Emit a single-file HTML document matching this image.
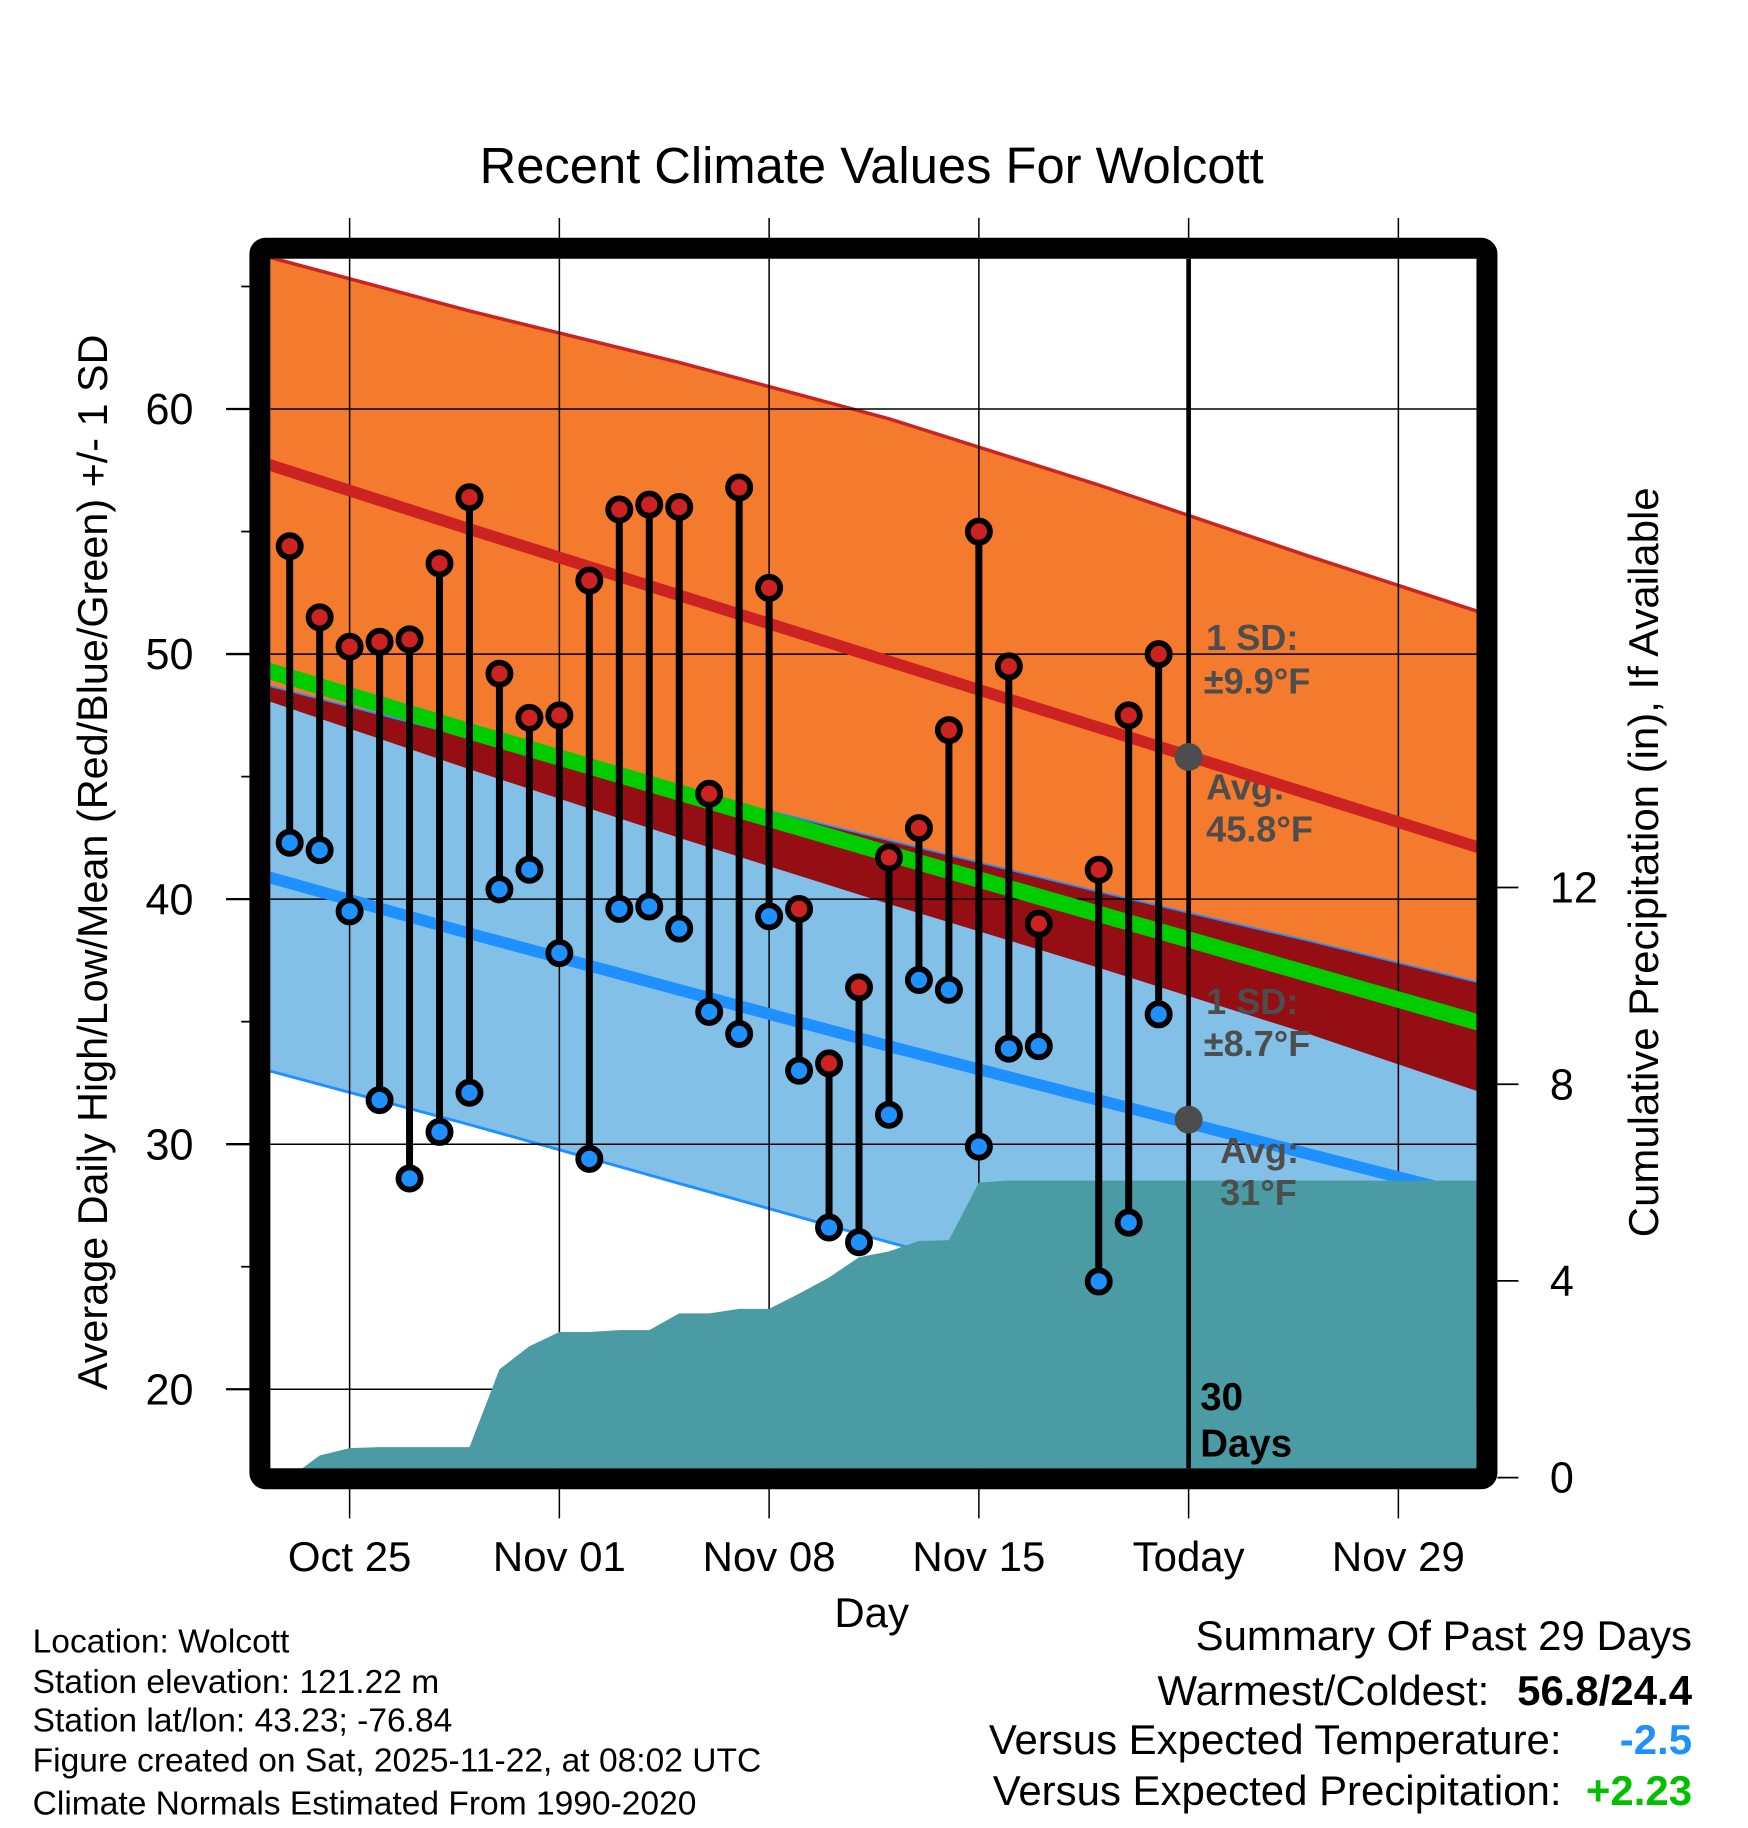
<!DOCTYPE html>
<html><head><meta charset="utf-8"><style>
html,body{margin:0;padding:0;background:#fff}
svg{display:block;font-family:"Liberation Sans",Arial,sans-serif}
</style></head><body>
<svg id="chart" width="1748" height="1828" viewBox="0 0 1500 1568.7" xmlns="http://www.w3.org/2000/svg">
<defs>
<clipPath id="plotClip"><rect x="232" y="222" width="1035" height="1038"/></clipPath>
<clipPath id="hiBandClip"><polygon id="hiBandClipPoly" points=""/></clipPath>
</defs>
<text x="748" y="157" text-anchor="middle" font-size="43.5">Recent Climate Values For Wolcott</text>
<g id="plot" clip-path="url(#plotClip)"></g>
<g id="axes"></g>
<text transform="translate(92,740) rotate(-90)" text-anchor="middle" font-size="35.5">Average Daily High/Low/Mean (Red/Blue/Green) +/- 1 SD</text>
<text transform="translate(1423,740) rotate(-90)" text-anchor="middle" font-size="36">Cumulative Precipitation (in), If Available</text>
<text x="748" y="1396" text-anchor="middle" font-size="36">Day</text>
<g font-size="28.8">
<text x="28" y="1418">Location: Wolcott</text>
<text x="28" y="1453">Station elevation: 121.22 m</text>
<text x="28" y="1486">Station lat/lon: 43.23; -76.84</text>
<text x="28" y="1520">Figure created on Sat, 2025-11-22, at 08:02 UTC</text>
<text x="28" y="1557">Climate Normals Estimated From 1990-2020</text>
</g>
<g font-size="36">
<text x="1452" y="1416" text-anchor="end">Summary Of Past 29 Days</text>
<text x="1278" y="1463" text-anchor="end">Warmest/Coldest:</text>
<text x="1452" y="1463" text-anchor="end" font-weight="bold">56.8/24.4</text>
<text x="1340" y="1505" text-anchor="end">Versus Expected Temperature:</text>
<text x="1452" y="1505" text-anchor="end" font-weight="bold" fill="#1e90ff">-2.5</text>
<text x="1340" y="1549" text-anchor="end">Versus Expected Precipitation:</text>
<text x="1452" y="1549" text-anchor="end" font-weight="bold" fill="#00c000">+2.23</text>
</g>
</svg>
<script>
// Observed daily data (day index: 0 = Oct 25)
const obsDays = [-2,-1,0,1,2,3,4,5,6,7,8,9,10,11,12,13,14,15,16,17,18,19,20,21,22,23,25,26,27];
const highs = [54.4,51.5,50.3,50.5,50.6,53.7,56.4,49.2,47.4,47.5,53.0,55.9,56.1,56.0,44.3,56.8,52.7,39.6,33.3,36.4,41.7,42.9,46.9,55.0,49.5,39.0,41.2,47.5,50.0];
const lows = [42.3,42.0,39.5,31.8,28.6,30.5,32.1,40.4,41.2,37.8,29.4,39.6,39.7,38.8,35.4,34.5,39.3,33.0,26.6,26.0,31.2,36.7,36.3,29.9,33.9,34.0,24.4,26.8,35.3];
const precipDays = [-2,-1,0,1,2,3,4,5,6,7,8,9,10,11,12,13,14,15,16,17,18,19,20,21,22,23,24,25,26,27];
const precip = [0,0.45,0.6,0.62,0.62,0.62,0.62,2.2,2.67,2.96,2.96,3.0,3.0,3.34,3.34,3.43,3.43,3.74,4.07,4.48,4.6,4.81,4.83,6.0,6.04,6.04,6.04,6.04,6.04,6.04];
// Normals at weekly dates
const normDays = [-3,4,11,18,25,32,39];
const hiUpper = [66.3,64.0,61.9,59.6,56.9,54.0,51.2];
const hiMean = [57.85,55.1,52.4,49.7,47.0,44.3,41.6];
const hiLower = [48.2,45.3,42.5,39.8,37.2,34.5,31.6];
const loUpper = [48.8,46.6,44.5,42.4,40.3,38.3,36.2];
const loMean = [41.0,38.6,36.3,34.0,31.8,29.6,27.4];
const loLower = [33.1,30.8,28.4,26.0,23.7,21.3,19.0];
const xTickDays = [0,7,14,21,28,35];
const xTickLabels = ["Oct 25","Nov 01","Nov 08","Nov 15","Today","Nov 29"];
const yTicks = [20,30,40,50,60];
const yMinor = [25,35,45,55,65];
const pTicks = [0,4,8,12];
const todayDay = 28;

const NS="http://www.w3.org/2000/svg";
const X=d=>300+d*25.714;
const Y=v=>351+(60-v)*21.03;
const YP=p=>1268-p*42.2;
const plot=document.getElementById('plot'), axes=document.getElementById('axes');
function mk(tag,attrs,parent){const e=document.createElementNS(NS,tag);for(const k in attrs)e.setAttribute(k,attrs[k]);parent.appendChild(e);return e;}
const pts=(arr)=>normDays.map((d,i)=>X(d)+','+Y(arr[i])).join(' ');
const band=(a,b)=>normDays.map((d,i)=>X(d)+','+Y(a[i])).concat(normDays.slice().reverse().map((d,j)=>{const i=normDays.length-1-j;return X(d)+','+Y(b[i]);})).join(' ');

let e;
e=mk('polygon',{points:band(hiUpper,hiLower),fill:'#f47a2e'},plot);


e=mk('polyline',{points:pts(hiUpper),fill:'none',stroke:'#cc2222','stroke-width':3},plot);


e=mk('polygon',{points:band(loUpper,loLower),fill:'#82c0e8'},plot);


document.getElementById('hiBandClipPoly').setAttribute('points',band(hiUpper,hiLower));
e=mk('polygon',{points:band(loUpper,loLower),fill:'#950e14','clip-path':'url(#hiBandClip)'},plot);


e=mk('polyline',{points:pts(loUpper),fill:'none',stroke:'#1e90ff','stroke-width':1.5},plot);


e=mk('polyline',{points:pts(loLower),fill:'none',stroke:'#1e90ff','stroke-width':2.5},plot);


// grid
yTicks.forEach(v=>{e=mk('line',{x1:232,x2:1267,y1:Y(v),y2:Y(v),stroke:'#000','stroke-width':1.3},plot);

});
xTickDays.forEach(d=>{e=mk('line',{x1:X(d),x2:X(d),y1:222,y2:1260,stroke:'#000','stroke-width':1.3},plot);

});
// mean lines (low)
e=mk('polyline',{points:pts(loMean),fill:'none',stroke:'#1e90ff','stroke-width':10},plot);


// precip area
let pp=[X(precipDays[0])+','+1262];
precipDays.forEach((d,i)=>pp.push(X(d)+','+YP(precip[i])));
pp.push('1270,'+YP(precip[precip.length-1]));pp.push('1270,1262');
e=mk('polygon',{points:pp.join(' '),fill:'#4a9ba4'},plot);


// annotations
const ann=mk('g',{fill:'#4d4d4d','font-size':31,'font-weight':'bold'},plot);


[[1035,558,'1 SD:'],[1033,595,'±9.9°F'],[1035,686,'Avg:'],[1035,722,'45.8°F'],[1035,870,'1 SD:'],[1033,906,'±8.7°F'],[1047,998,'Avg:'],[1047,1034,'31°F']].forEach(a=>{const t=mk('text',{x:a[0],y:a[1]},ann);t.textContent=a[2];});
e=mk('polyline',{points:pts(hiMean),fill:'none',stroke:'#cc2222','stroke-width':10},plot);


e=mk('polyline',{points:normDays.map((d,i)=>X(d)+','+Y((hiMean[i]+loMean[i])/2)).join(' '),fill:'none',stroke:'#00cc00','stroke-width':14},plot);


// today line
e=mk('line',{x1:X(todayDay),x2:X(todayDay),y1:222,y2:1260,stroke:'#000','stroke-width':4},plot);


const gd=(cy,n)=>{e=mk('circle',{cx:X(todayDay),cy:cy,r:12,fill:'#4d4d4d'},plot);

};
gd(Y(45.8),'avg-high-marker');gd(Y(31.0),'avg-low-marker');
const dl=mk('g',{'font-size':33,'font-weight':'bold'},plot);


let t=mk('text',{x:1030,y:1210},dl);t.textContent='30';
t=mk('text',{x:1030,y:1250},dl);t.textContent='Days';
// stems and dots
obsDays.forEach((d,i)=>{
 e=mk('line',{x1:X(d),x2:X(d),y1:Y(highs[i]),y2:Y(lows[i]),stroke:'#000','stroke-width':6},plot);
 
 
 e=mk('circle',{cx:X(d),cy:Y(highs[i]),r:9.5,fill:'#cc2222',stroke:'#000','stroke-width':5},plot);
 
 
 e=mk('circle',{cx:X(d),cy:Y(lows[i]),r:9.5,fill:'#1e90ff',stroke:'#000','stroke-width':5},plot);
 
 
});
// frame
e=mk('rect',{x:223,y:213,width:1053,height:1056,rx:5,fill:'none',stroke:'#000','stroke-width':18},axes);


// y ticks
yTicks.forEach(v=>{e=mk('line',{x1:194,x2:215,y1:Y(v),y2:Y(v),stroke:'#000','stroke-width':2},axes);


const tt=mk('text',{x:166,y:Y(v)+13,'text-anchor':'end','font-size':37},axes);tt.textContent=v;

});
yMinor.forEach(v=>{e=mk('line',{x1:207,x2:215,y1:Y(v),y2:Y(v),stroke:'#000','stroke-width':1.5},axes);

});
// x ticks
xTickDays.forEach((d,i)=>{
 e=mk('line',{x1:X(d),x2:X(d),y1:187,y2:205,stroke:'#000','stroke-width':1.3},axes);
 
 
 e=mk('line',{x1:X(d),x2:X(d),y1:1277,y2:1303,stroke:'#000','stroke-width':1.3},axes);
 
 
 const tt=mk('text',{x:X(d),y:1348,'text-anchor':'middle','font-size':36},axes);tt.textContent=xTickLabels[i];
 
 
});
// precip ticks
pTicks.forEach(p=>{e=mk('line',{x1:1285,x2:1303,y1:YP(p),y2:YP(p),stroke:'#000','stroke-width':1.5},axes);


const tt=mk('text',{x:1330,y:YP(p)+13,'font-size':37},axes);tt.textContent=p;

});
</script>
</body></html>
